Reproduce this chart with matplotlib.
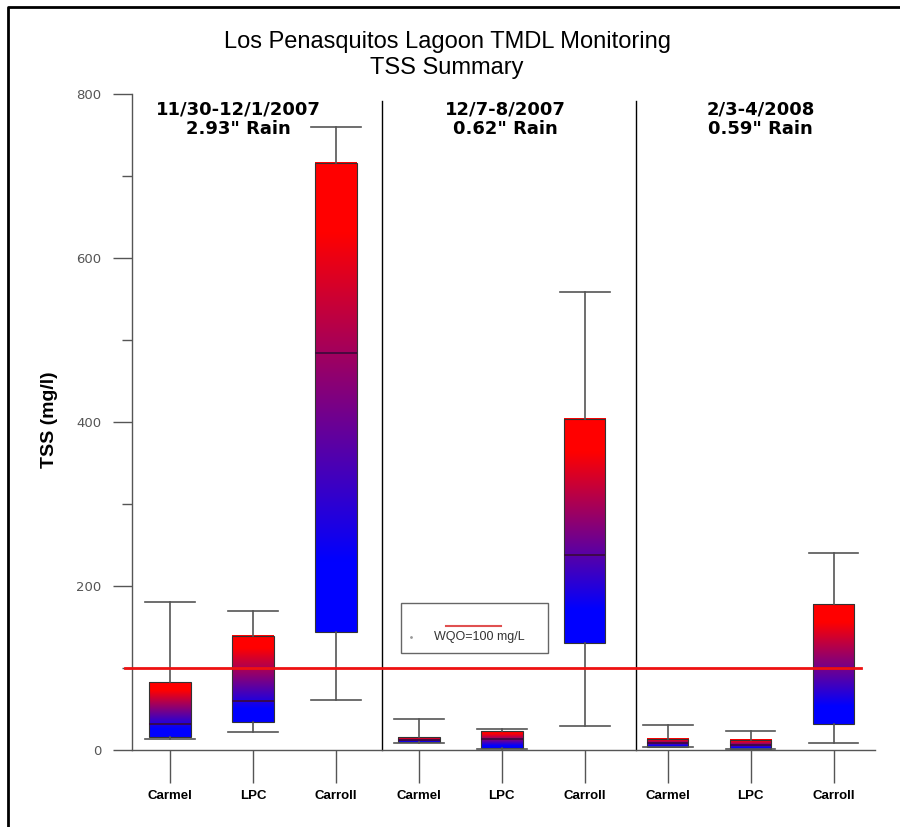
import matplotlib
matplotlib.use('Agg')
import matplotlib.pyplot as plt
import numpy as np
from matplotlib.colors import LinearSegmentedColormap
from matplotlib.patches import Rectangle
from matplotlib.lines import Line2D

plt.rcParams['font.family'] = ['Liberation Sans', 'DejaVu Sans']

# box summaries (mg/l)
sites = ['Carmel', 'LPC', 'Carroll'] * 3
whislo = [13, 22, 61, 8.5, 1, 29, 4, 1, 8.5]
q1 = [16, 34, 144, 10, 3, 130, 4, 1, 32]
med = [32, 60, 484, 12, 13, 238, 8, 6, 100]
q3 = [83, 139, 716, 16, 23, 404, 14, 12, 178]
whishi = [180, 169, 760, 38, 26, 558, 30, 23, 240]
events = ['11/30-12/1/2007\n2.93" Rain', '12/7-8/2007\n0.62" Rain', '2/3-4/2008\n0.59" Rain']
wqo = 100

W, H = 900, 827
fig = plt.figure(figsize=(9, 8.27), dpi=100)
ax = fig.add_axes([132 / W, 1 - 750 / H, (875 - 132) / W, (750 - 94) / H])

pos = np.arange(1, len(sites) + 1)
stats = [dict(whislo=a, q1=b, med=c, q3=d, whishi=e, label=s)
         for a, b, c, d, e, s in zip(whislo, q1, med, q3, whishi, sites)]
bp = ax.bxp(stats, positions=pos, widths=0.5, capwidths=0.6, patch_artist=True,
            showfliers=False,
            boxprops=dict(facecolor='none', edgecolor='#333333', linewidth=0.8, zorder=2),
            whiskerprops=dict(color='#555555', linewidth=1.2),
            capprops=dict(color='#555555', linewidth=1.2),
            medianprops=dict(color='#3a0a3a', linewidth=1.2, zorder=3))

# red-blue gradient fill inside each box
cmap = LinearSegmentedColormap.from_list(
    'rb', [(0, '#0000ff'), (0.15, '#0000ff'), (0.85, '#ff0000'), (1, '#ff0000')], N=1024)
grad = cmap(np.linspace(0, 1, 1024))[:, :3].reshape(-1, 1, 3)
for p, s in zip(pos, stats):
    ax.imshow(grad, extent=[p - 0.25, p + 0.25, s['q1'], s['q3']],
              origin='lower', aspect='auto', zorder=1.9, interpolation='bilinear')

# WQO line
ax.plot([0.45, 9.33], [wqo, wqo], color='#ee1111', lw=2, clip_on=False, zorder=4)

# event separators
for xs in [3.56, 6.62]:
    ax.plot([xs, xs], [0, 792], color='black', lw=1, clip_on=False, zorder=1)

for xc, ev in zip([1.82, 5.04, 8.12], events):
    ax.text(xc, 769, ev, ha='center', va='center', fontsize=13, fontweight='bold',
            family='DejaVu Sans', linespacing=1.15)

ax.set_xlim(0.54, 9.5)
ax.set_ylim(0, 800)
ax.set_aspect('auto')
for sp in ['top', 'right']:
    ax.spines[sp].set_visible(False)
for sp in ['left', 'bottom']:
    ax.spines[sp].set_color('#555555')
    ax.spines[sp].set_linewidth(1)

ax.set_yticks([0, 200, 400, 600, 800])
ax.set_yticks([100, 300, 500, 700], minor=True)
ax.tick_params(axis='y', which='major', length=14, width=1, color='#555555',
               labelcolor='#555555', labelsize=9.5, pad=8)
ax.tick_params(axis='y', which='minor', length=7, width=1, color='#555555')
for lbl in ax.get_yticklabels():
    lbl.set_fontfamily('DejaVu Sans')

ax.set_xticks(pos, labels=sites)
ax.tick_params(axis='x', length=24, width=1, color='#555555', pad=5, labelsize=9.5)
for lbl in ax.get_xticklabels():
    lbl.set_fontweight('bold')

fig.text(50 / W, 1 - 420 / H, 'TSS (mg/l)', rotation=90, ha='center', va='center',
         fontsize=14, fontweight='bold')
fig.text(447 / W, 1 - 55 / H, 'Los Penasquitos Lagoon TMDL Monitoring\nTSS Summary',
         ha='center', va='center', fontsize=17, linespacing=1.2)

# legend box
fig.add_artist(Rectangle((401 / W, 1 - 653 / H), 147 / W, 50 / H, transform=fig.transFigure,
                         fill=False, ec='#666666', lw=1))
fig.add_artist(Line2D([446 / W, 501 / W], [1 - 626 / H, 1 - 626 / H], transform=fig.transFigure,
                      color='#e05050', lw=1.5))
fig.add_artist(Line2D([411 / W], [1 - 637 / H], transform=fig.transFigure, marker='.',
                      color='#999999', markersize=2))
fig.text(479 / W, 1 - 637 / H, 'WQO=100 mg/L', ha='center', va='center', fontsize=9,
         color='#333333')

# outer frame (top and left edges visible)
fig.add_artist(Line2D([8 / W, 8 / W, 1], [0, 1 - 7 / H, 1 - 7 / H], transform=fig.transFigure,
                      color='black', lw=2))

fig.savefig('out.png', dpi=100, facecolor='white')
